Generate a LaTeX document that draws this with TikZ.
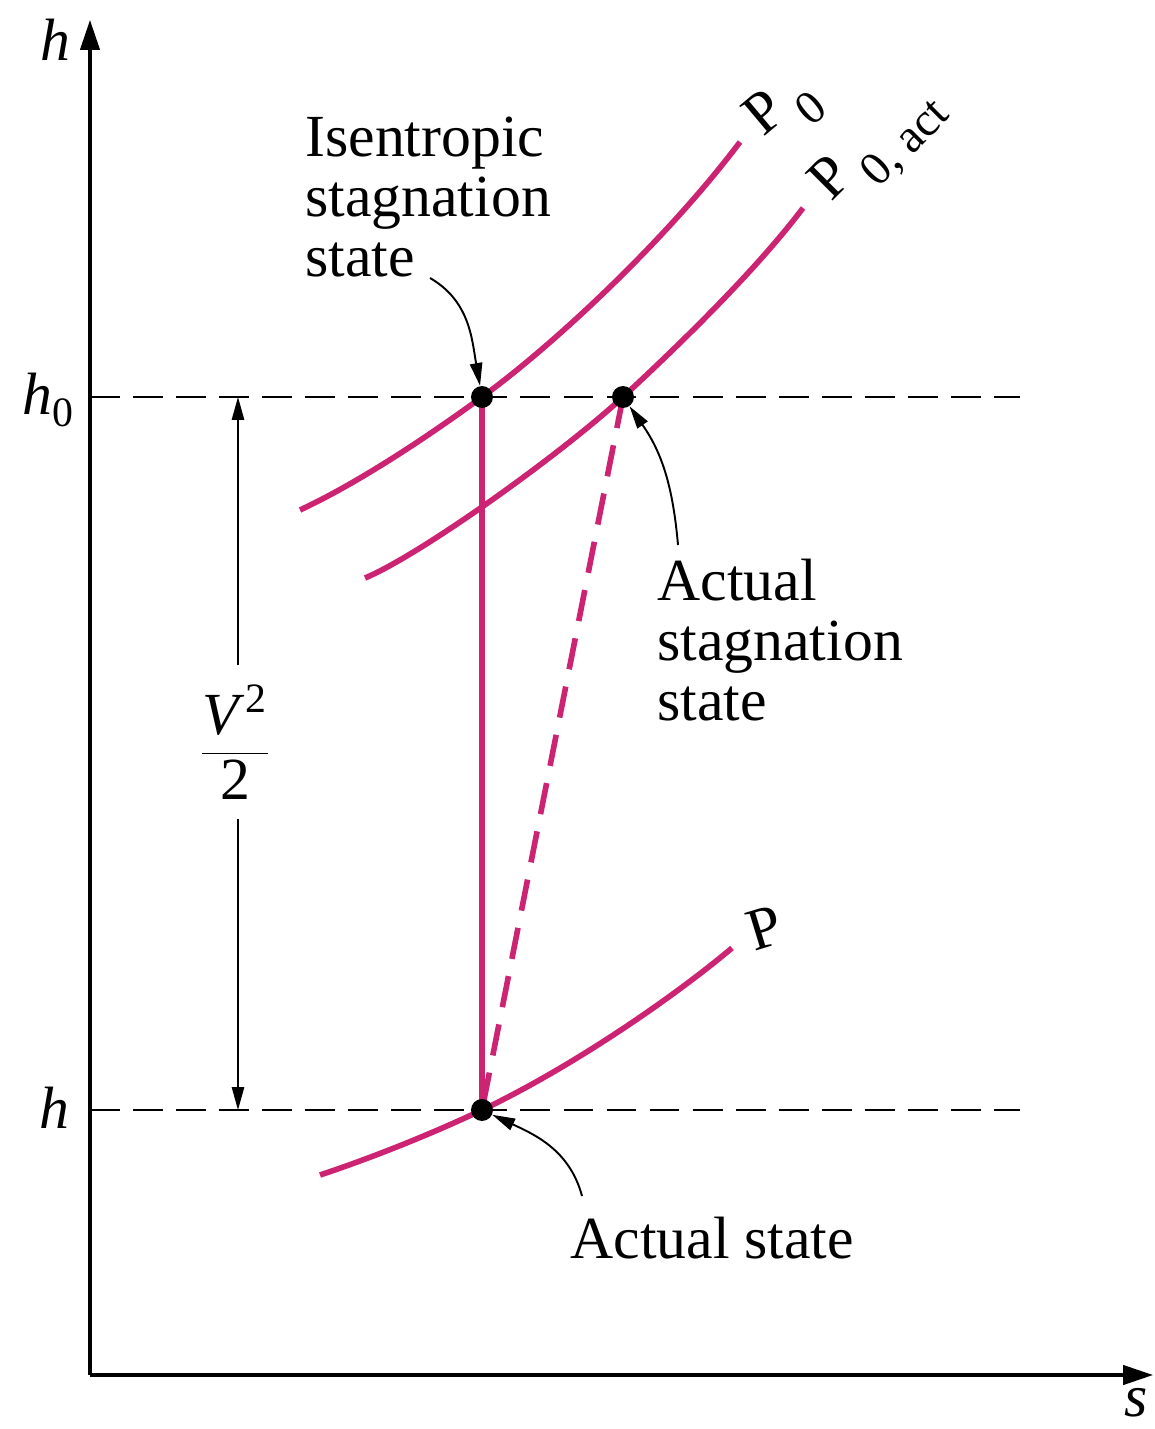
\documentclass[tikz,border=0pt]{standalone}
\usepackage{amsmath}
\usepackage{fontspec}
\setmainfont{Liberation Serif}
\usepackage{xcolor}
\usepackage{tikz}
\usetikzlibrary{arrows.meta}
\definecolor{prscol}{RGB}{205,35,115}
\tikzset{
  axis/.style={line width=1.8pt,-{Triangle[length=17pt,width=11pt]}},
  lvl/.style={line width=1.6pt,dash pattern=on 17pt off 7.5pt},
  prs/.style={prscol,line width=3.2pt},
  dim/.style={line width=0.9pt,-{Triangle[length=13pt,width=7pt]}},
  ptr/.style={line width=1.1pt,-{Triangle[length=13pt,width=7pt]}},
  dot/.style={circle,fill=black,inner sep=0pt,minimum size=12.5pt},
  lbl/.style={align=left,inner sep=0pt,anchor=north west}
}
\newcommand{\lowsub}[1]{\,\raisebox{-0.4em}{\fontsize{27pt}{27pt}\selectfont #1}}

\begin{document}
\begin{tikzpicture}[x=0.02cm,y=-0.02cm,font=\fontsize{34pt}{34pt}\selectfont]
\useasboundingbox (0,0) rectangle (1154,1429);
% axes
\coordinate (o) at (90,1375);
\coordinate (ytop) at (90,20);
\coordinate (xend) at (1153,1375);
\draw[axis] (o) -- (ytop);
\draw[axis] (o) -- (xend);
\node (hax) at (55,40) {\textit{h}};
\node (sax) at (1136,1403) {\textit{s}};
% state points
\coordinate (c1) at (482,397);
\coordinate (c2) at (623,397);
\coordinate (c3) at (482,1110);
% enthalpy levels
\coordinate (h0r) at (1020,397);
\coordinate (hr) at (1020,1110);
\draw[lvl] (o |- c1) -- (h0r);
\draw[lvl] (o |- c3) -- (hr);
\node[anchor=east] (h0l) at (80,400) {\textit{h}\textsubscript{0}};
\node[anchor=east] (hl) at (76,1108) {\textit{h}};
% pressure lines
\draw[prs] (300,510) .. controls (360,482) and (430,435) .. (c1) .. controls (560,340) and (670,235) .. (740,142);
\draw[prs] (365,578) .. controls (420,555) and (560,455) .. (c2) .. controls (690,335) and (760,265) .. (803,208);
\draw[prs] (320,1175) .. controls (380,1155) and (440,1130) .. (c3) .. controls (570,1068) and (670,1000) .. (732,948);
\node[rotate=40] (p0l) at (784,110) {P\lowsub{0}};
\node[rotate=45] (p0al) at (880,148) {P\lowsub{0, act}};
\node[rotate=17] (pl) at (765,928) {P};
% processes
\draw[prs] (c1) -- (c3);
\draw[prs,dash pattern=on 18pt off 10pt] (c2) -- (c3);
\node[dot] (isen) at (c1) {};
\node[dot] (stag) at (c2) {};
\node[dot] (act) at (c3) {};
% V^2/2
\coordinate (dtop) at (238,397);
\coordinate (dbot) at (238,1110);
\node[inner xsep=0pt,inner ysep=11pt] (v2) at (235,742) {$\dfrac{\textit{V}^{\,\text{2}}}{\text{2}}$};
\draw[dim] (v2.north -| dtop) -- (dtop);
\draw[dim] (v2.south -| dbot) -- (dbot);
% labels
\node[lbl] (isenl) at (305,117) {Isentropic\\stagnation\\state};
\coordinate (t1) at (430,278);
\draw[ptr] (t1) to[out=-30,in=100] (isen);
\node[lbl] (stagl) at (657,559) {Actual\\stagnation\\state};
\coordinate (t2) at (678,545);
\draw[ptr] (t2) to[out=95,in=-55] (stag);
\node[lbl] (actl) at (570,1217) {Actual state};
\coordinate (t3) at (582,1196);
\draw[ptr] (t3) to[out=105,in=-25] (act);
\end{tikzpicture}
\end{document}
